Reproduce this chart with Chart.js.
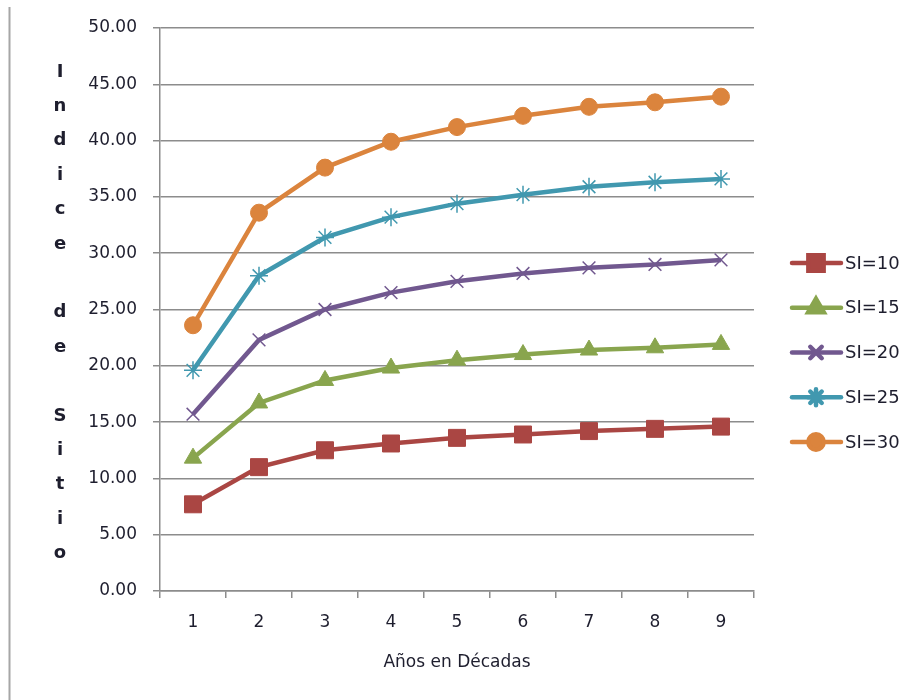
<!DOCTYPE html>
<html>
<head>
<meta charset="utf-8">
<script src="https://cdn.jsdelivr.net/npm/chart.js@4.4.0/dist/chart.umd.min.js"></script>
<style>
  html, body { margin: 0; padding: 0; background: #fff; }
  #wrap { width: 911px; height: 700px; position: relative; }
</style>
</head>
<body>
<div id="wrap"><canvas id="grafico" width="911" height="700"></canvas></div>
<script>
// Datos
const decadas = ["1", "2", "3", "4", "5", "6", "7", "8", "9"];
const si10 = [7.7, 11.0, 12.5, 13.1, 13.6, 13.9, 14.2, 14.4, 14.6];
const si15 = [11.8, 16.7, 18.7, 19.8, 20.5, 21.0, 21.4, 21.6, 21.9];
const si20 = [15.7, 22.3, 25.0, 26.5, 27.5, 28.2, 28.7, 29.0, 29.4];
const si25 = [19.6, 28.0, 31.4, 33.2, 34.4, 35.2, 35.9, 36.3, 36.6];
const si30 = [23.6, 33.6, 37.6, 39.9, 41.2, 42.2, 43.0, 43.4, 43.9];
const nombres = ["SI=10", "SI=15", "SI=20", "SI=25", "SI=30"];
const tituloY = "Indice de Sitio";
const tituloX = "Años en Décadas";

const fuente = "'DejaVu Sans', Verdana, sans-serif";
const colorTexto = "#1e1e2e";

function serie(nombre, datos, color, estilo, radio, borde) {
    return {
        label: nombre,
        data: datos,
        borderColor: color,
        backgroundColor: color,
        pointBackgroundColor: color,
        pointBorderColor: color,
        pointStyle: estilo,
        pointRadius: radio,
        pointHoverRadius: radio,
        pointBorderWidth: borde,
        borderWidth: 4.5,
        tension: 0
    };
}

// Dibuja el título vertical, la leyenda y el borde izquierdo
const extras = {
    id: "extras",
    afterDraw(chart) {
        const ctx = chart.ctx;
        ctx.save();

        // borde izquierdo
        ctx.strokeStyle = "#a6a6a6";
        ctx.lineWidth = 2;
        ctx.beginPath();
        ctx.moveTo(9.5, 7);
        ctx.lineTo(9.5, 700);
        ctx.stroke();

        // título del eje Y, letra por letra
        ctx.fillStyle = colorTexto;
        ctx.font = "bold 18px " + fuente;
        ctx.textAlign = "center";
        ctx.textBaseline = "middle";
        [...tituloY].forEach((letra, i) => {
            if (letra !== " ") ctx.fillText(letra, 60, 72 + i * 34.4);
        });

        // leyenda
        chart.data.datasets.forEach((ds, i) => {
            const y = 263 + i * 44.75;
            ctx.strokeStyle = ds.borderColor;
            ctx.lineWidth = 4.5;
            ctx.lineCap = "round";
            ctx.beginPath();
            ctx.moveTo(792, y);
            ctx.lineTo(841, y);
            ctx.stroke();
            ctx.fillStyle = ds.backgroundColor;
            Chart.helpers.drawPoint(ctx, {
                pointStyle: ds.pointStyle,
                radius: ds.pointRadius * 0.9,
                rotation: 0,
                borderWidth: ds.pointBorderWidth
            }, 816, y);
            ctx.fillStyle = colorTexto;
            ctx.font = "18px " + fuente;
            ctx.textAlign = "left";
            ctx.textBaseline = "middle";
            ctx.fillText(ds.label, 845, y + 1);
        });
        ctx.restore();
    }
};

new Chart(document.getElementById("grafico"), {
    type: "line",
    data: {
        labels: decadas,
        datasets: [
            serie(nombres[0], si10, "#AA4643", "rect", 12, 1),
            serie(nombres[1], si15, "#89A54E", "triangle", 10, 1),
            serie(nombres[2], si20, "#71588F", "crossRot", 9, 1.5),
            serie(nombres[3], si25, "#4198AF", "star", 9, 1.5),
            serie(nombres[4], si30, "#DB843D", "circle", 8.5, 1)
        ]
    },
    options: {
        responsive: false,
        animation: false,
        layout: { padding: { left: 0, top: 28, right: 157, bottom: 0 } },
        plugins: {
            legend: { display: false },
            tooltip: { enabled: false }
        },
        scales: {
            x: {
                offset: true,
                grid: {
                    offset: true,
                    drawOnChartArea: false,
                    drawTicks: true,
                    tickLength: 7,
                    color: "#8c8c8c",
                    lineWidth: 1.5
                },
                border: { color: "#8c8c8c", width: 1.5 },
                ticks: {
                    color: colorTexto,
                    font: { family: fuente, size: 17 },
                    padding: 14,
                    maxRotation: 0
                },
                title: {
                    display: true,
                    text: tituloX,
                    color: colorTexto,
                    font: { family: fuente, size: 17 },
                    padding: { top: 27, bottom: 27 }
                },
                afterFit(scale) { scale.height = 109; }
            },
            y: {
                min: 0,
                max: 50,
                grid: {
                    color: "#8c8c8c",
                    lineWidth: 1.5,
                    tickLength: 7
                },
                border: { color: "#8c8c8c", width: 1.5 },
                ticks: {
                    stepSize: 5,
                    color: colorTexto,
                    font: { family: fuente, size: 17 },
                    padding: 16,
                    callback: v => v.toFixed(2)
                },
                afterFit(scale) { scale.width = 160; }
            }
        }
    },
    plugins: [extras]
});
</script>
</body>
</html>
